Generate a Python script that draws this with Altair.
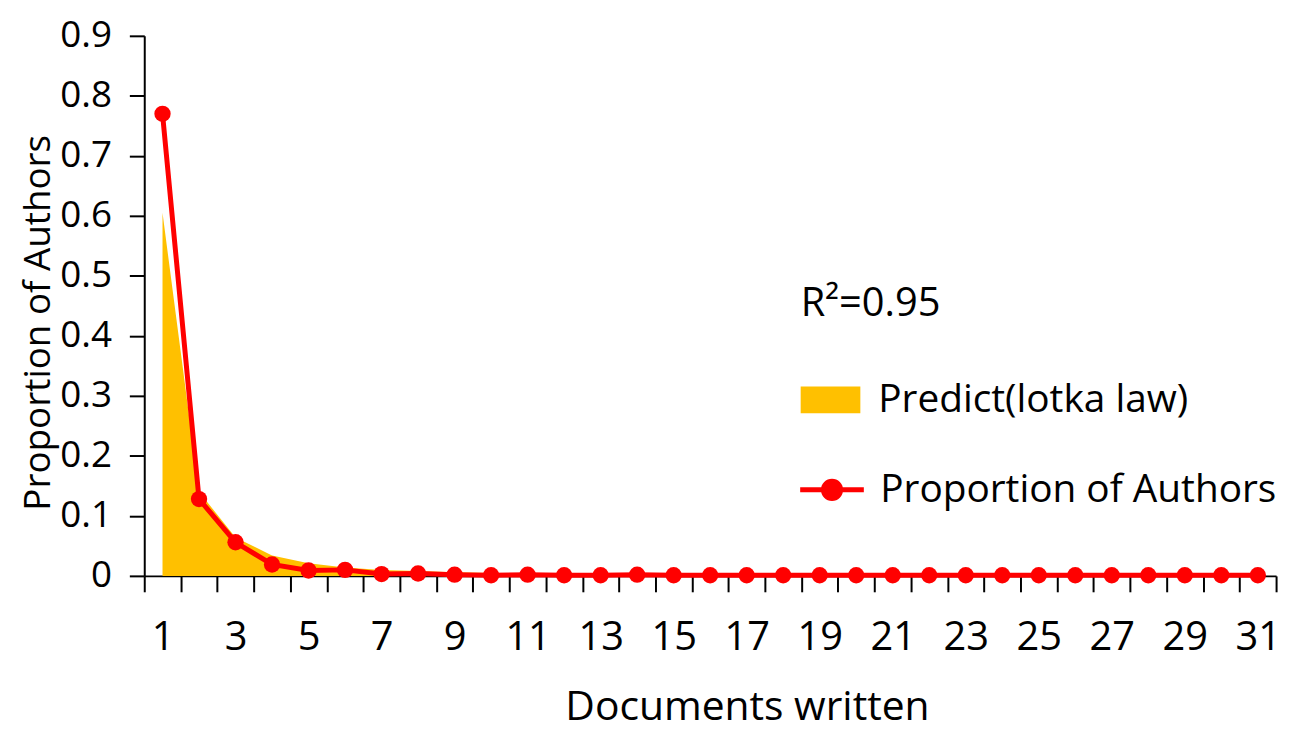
import altair as alt
import pandas as pd

docs = list(range(1, 32))
observed = [0.770, 0.128, 0.056, 0.019, 0.009, 0.010, 0.003, 0.004, 0.002, 0.001,
            0.002, 0.001, 0.001, 0.002, 0.001, 0.001, 0.001, 0.001, 0.001, 0.001,
            0.001, 0.001, 0.001, 0.001, 0.001, 0.001, 0.001, 0.001, 0.001, 0.001,
            0.001]
predicted = [0.605, 0.140, 0.064, 0.034, 0.021, 0.014, 0.010, 0.008, 0.006, 0.005,
             0.004, 0.0035, 0.003, 0.0027, 0.0024, 0.002, 0.0018, 0.0016, 0.0015, 0.0014,
             0.0013, 0.0012, 0.0011, 0.001, 0.001, 0.0009, 0.0009, 0.0008, 0.0008, 0.0007,
             0.0007]
y_ticks = [0, 0.1, 0.2, 0.3, 0.4, 0.5, 0.6, 0.7, 0.8, 0.9]

pred_name = "Predict(lotka law)"
obs_name = "Proportion of Authors"

df = pd.DataFrame({
    "docs": docs,
    "observed": observed,
    "predicted": predicted,
    "pred_series": [pred_name] * len(docs),
    "obs_series": [obs_name] * len(docs),
})

FONT = "Open Sans"

x_enc = alt.X(
    "docs:O",
    bandPosition=0.5,
    scale=alt.Scale(type="band", paddingInner=0, paddingOuter=0),
    axis=alt.Axis(
        title="Documents written",
        tickBand="extent",
        tickSize=16,
        labelPadding=26,
        labelAngle=0,
        labelExpr="datum.value % 2 == 1 ? datum.label : ''",
        titleX=606,
        titleAlign="center",
        titleY=144,
        titleBaseline="alphabetic",
    ),
)

y_scale = alt.Scale(domain=[0, 0.9], nice=False, zero=True)
y_axis = alt.Axis(
    title="Proportion of Authors",
    values=y_ticks,
    tickSize=15,
    labelPadding=18,
    labelFontSize=37,
    labelExpr="datum.value == 0 ? '0' : format(datum.value, '.1f')",
    titleAngle=270,
    titleX=-106,
    titleY=288,
    titleAlign="center",
    titleBaseline="middle",
    titleFontSize=37,
)

base = alt.Chart(df)

area = base.mark_area(color="#FFC000").encode(
    x=x_enc,
    y=alt.Y("predicted:Q", scale=y_scale, axis=y_axis),
    fill=alt.Fill(
        "pred_series:N",
        scale=alt.Scale(domain=[pred_name], range=["#FFC000"]),
        legend=alt.Legend(
            title="R\u00b2=0.95",
            orient="none",
            legendX=660,
            legendY=250,
            titlePadding=46,
            symbolType="M-1,-0.45H1V0.45H-1Z",
            symbolSize=3600,
            symbolStrokeWidth=0,
            symbolOpacity=1,
        ),
    ),
)

line = base.mark_line(strokeWidth=5).encode(
    x=x_enc,
    y=alt.Y("observed:Q", scale=y_scale, axis=y_axis),
    stroke=alt.Stroke(
        "obs_series:N",
        scale=alt.Scale(domain=[obs_name], range=["#FF0000"]),
        legend=alt.Legend(
            title=None,
            orient="none",
            legendX=657,
            legendY=422,
            labelOffset=14,
            symbolType="M-1,0H1M-0.27,0A0.27,0.27 0 1,1 0.27,0A0.27,0.27 0 1,1 -0.27,0",
            symbolSize=4096,
            symbolStrokeWidth=5,
            symbolFillColor="#FF0000",
            symbolStrokeColor="#FF0000",
        ),
    ),
)

points = base.mark_circle(size=270, opacity=1, color="#FF0000").encode(
    x=x_enc,
    y=alt.Y("observed:Q", scale=y_scale, axis=y_axis),
)

chart = (
    alt.layer(area, line, points)
    .properties(
        width=1138,
        height=543,
        autosize=alt.AutoSizeParams(type="none"),
        padding={"left": 137, "top": 26, "right": 15, "bottom": 155},
    )
    .configure_view(stroke=None)
    .configure_axis(
        domainColor="black",
        domainWidth=2,
        tickColor="black",
        tickWidth=2,
        grid=False,
        labelFont=FONT,
        labelFontSize=40,
        labelColor="black",
        titleFont=FONT,
        titleFontSize=41,
        titleFontWeight="normal",
        titleColor="black",
    )
    .configure_legend(
        labelFont=FONT,
        labelFontSize=39,
        labelColor="black",
        labelOffset=18,
        titleFont=FONT,
        titleFontSize=40,
        titleFontWeight="normal",
        titleColor="black",
        titleLimit=400,
        labelLimit=600,
        padding=0,
    )
)

chart.save("out.html", embed_options={"renderer": "svg", "actions": False})
